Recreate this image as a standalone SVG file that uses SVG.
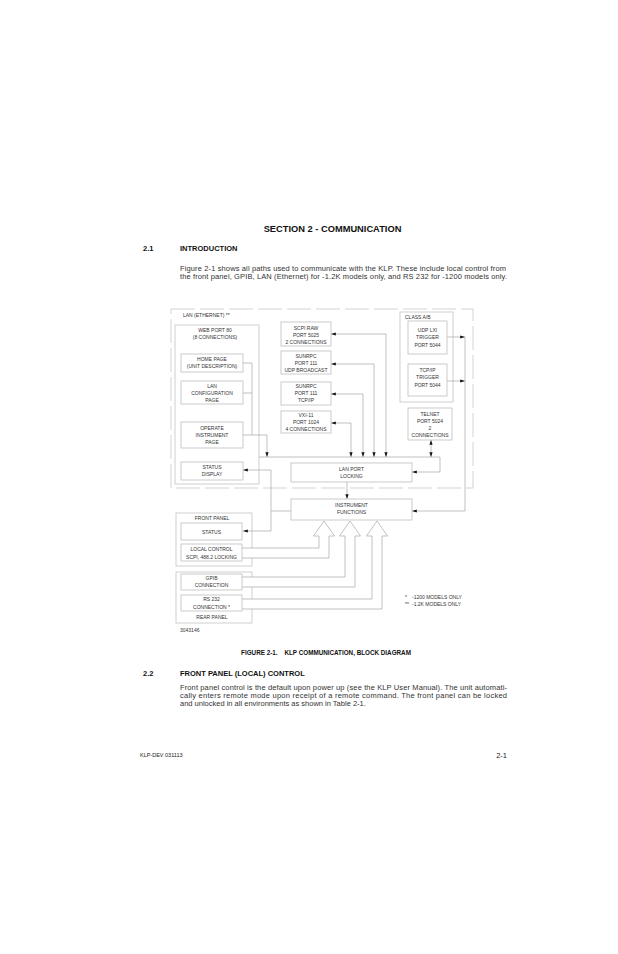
<svg xmlns="http://www.w3.org/2000/svg" width="618" height="954" viewBox="0 0 618 954">
<defs>
<style>
.f{font-family:"Liberation Sans",Arial,sans-serif}
.t{font-family:"Liberation Sans",Arial,sans-serif;font-size:5px;fill:#333;text-anchor:middle}
.tl{font-family:"Liberation Sans",Arial,sans-serif;font-size:5px;fill:#333}
.h{font-family:"Liberation Sans",Arial,sans-serif;font-weight:bold;fill:#111}
.p{font-family:"Liberation Sans",Arial,sans-serif;font-size:7.5px;fill:#333}
.box{fill:#fff;stroke:#bdbdbd;stroke-width:0.8}
.grp{fill:none;stroke:#c4c4c4;stroke-width:0.8}
.ln{fill:none;stroke:#a8a8a8;stroke-width:0.7}
.dash{fill:none;stroke:#c8c8c8;stroke-width:0.8;stroke-dasharray:24 5}
.hol{fill:#fff;stroke:#a8a8a8;stroke-width:0.7}
</style>
<marker id="ah" viewBox="0 0 6 4" refX="6" refY="2" markerWidth="5" markerHeight="3.2" orient="auto-start-reverse" markerUnits="userSpaceOnUse">
<path d="M0,0 L6,2 L0,4 z" fill="#111"/>
</marker>
</defs>
<rect width="618" height="954" fill="#fff"/>

<!-- page text -->
<text class="h" x="332.5" y="231.5" font-size="9.3" text-anchor="middle">SECTION 2 - COMMUNICATION</text>
<text class="h" x="143" y="250.5" font-size="7.5">2.1</text>
<text class="h" x="180" y="250.5" font-size="7.5">INTRODUCTION</text>
<text class="p" x="180" y="270.5" textLength="326" lengthAdjust="spacing">Figure 2-1 shows all paths used to communicate with the KLP. These include local control from</text>
<text class="p" x="180" y="278.5" textLength="327" lengthAdjust="spacing">the front panel, GPIB, LAN (Ethernet) for -1.2K models only, and RS 232 for -1200 models only.</text>

<!-- group frames -->
<g id="lan-ethernet">
<rect class="dash" x="171" y="309" width="302" height="179"/>
<text class="tl" x="183" y="317">LAN (ETHERNET) **</text>
</g>
<g id="web-port-80">
<rect class="grp" x="175" y="325" width="84" height="159"/>
<text class="t" x="215" y="332">WEB PORT 80</text>
<text class="t" x="215" y="339">(8 CONNECTIONS)</text>
</g>
<g id="class-ab">
<rect class="grp" x="400" y="312" width="53" height="90"/>
<text class="tl" x="405" y="319">CLASS A/B</text>
</g>
<g id="front-panel">
<rect class="grp" x="176" y="513" width="76" height="53"/>
<text class="t" x="212" y="520">FRONT PANEL</text>
</g>
<g id="rear-panel">
<rect class="grp" x="176" y="572" width="76" height="51"/>
<text class="t" x="212" y="619">REAR PANEL</text>
</g>

<!-- connectors -->
<g id="connectors">
<path class="ln" d="M243,363 H252 V435"/>
<path class="ln" d="M243,393 H252"/>
<path class="ln" d="M243,435 H267 V457" marker-end="url(#ah)"/>
<path class="ln" d="M259,457 H440 V472 H412" marker-end="url(#ah)"/>
<path class="ln" d="M386,457 V334 H331" marker-start="url(#ah)" marker-end="url(#ah)"/>
<path class="ln" d="M374,457 V364 H331" marker-start="url(#ah)" marker-end="url(#ah)"/>
<path class="ln" d="M363,457 V394 H331" marker-start="url(#ah)" marker-end="url(#ah)"/>
<path class="ln" d="M351,457 V423 H331" marker-start="url(#ah)" marker-end="url(#ah)"/>
<path class="ln" d="M431,457 V440" marker-start="url(#ah)" marker-end="url(#ah)"/>
<path class="ln" d="M347,482 V499" marker-end="url(#ah)"/>
<path class="ln" d="M447,337 H465" marker-end="url(#ah)"/>
<path class="ln" d="M447,381 H465" marker-end="url(#ah)"/>
<path class="ln" d="M465,337 V511 H412" marker-end="url(#ah)"/>
<path class="ln" d="M291,511 H271 V470 H243" marker-end="url(#ah)"/>
<path class="ln" d="M271,511 V531 H243" marker-end="url(#ah)"/>
<path class="hol" d="M242,548 H319 V536 H313.5 L324,521 L334.5,536 H329 V558 H242"/>
<path class="hol" d="M242,577 H345 V536 H339.5 L350,521 L360.5,536 H355 V587 H242"/>
<path class="hol" d="M242,599 H372 V536 H366.5 L377,521 L387.5,536 H382 V609 H242"/>
</g>

<!-- nodes -->
<g id="home-page">
<rect class="box" x="181" y="354" width="62" height="18"/>
<text class="t" x="212" y="361">HOME PAGE</text>
<text class="t" x="212" y="368">(UNIT DESCRIPTION)</text>
</g>
<g id="lan-config-page">
<rect class="box" x="181" y="381" width="62" height="23"/>
<text class="t" x="212" y="388">LAN</text>
<text class="t" x="212" y="395">CONFIGURATION</text>
<text class="t" x="212" y="402">PAGE</text>
</g>
<g id="operate-page">
<rect class="box" x="181" y="422" width="62" height="26"/>
<text class="t" x="212" y="430">OPERATE</text>
<text class="t" x="212" y="437">INSTRUMENT</text>
<text class="t" x="212" y="444">PAGE</text>
</g>
<g id="status-display">
<rect class="box" x="181" y="462" width="62" height="18"/>
<text class="t" x="212" y="468.5">STATUS</text>
<text class="t" x="212" y="476">DISPLAY</text>
</g>
<g id="scpi-raw">
<rect class="box" x="281" y="322" width="50" height="24"/>
<text class="t" x="306" y="330">SCPI RAW</text>
<text class="t" x="306" y="337">PORT 5025</text>
<text class="t" x="306" y="344">2 CONNECTIONS</text>
</g>
<g id="sunrpc-udp">
<rect class="box" x="281" y="351" width="50" height="23"/>
<text class="t" x="306" y="358">SUNRPC</text>
<text class="t" x="306" y="365">PORT 111</text>
<text class="t" x="306" y="372">UDP BROADCAST</text>
</g>
<g id="sunrpc-tcp">
<rect class="box" x="281" y="382" width="50" height="23"/>
<text class="t" x="306" y="388">SUNRPC</text>
<text class="t" x="306" y="395">PORT 111</text>
<text class="t" x="306" y="402">TCP/IP</text>
</g>
<g id="vxi-11">
<rect class="box" x="281" y="411" width="50" height="22"/>
<text class="t" x="306" y="417">VXI-11</text>
<text class="t" x="306" y="424">PORT 1024</text>
<text class="t" x="306" y="431">4 CONNECTIONS</text>
</g>
<g id="udp-lxi">
<rect class="box" x="408" y="321" width="39" height="33"/>
<text class="t" x="427.5" y="332">UDP LXI</text>
<text class="t" x="427.5" y="339">TRIGGER</text>
<text class="t" x="427.5" y="347">PORT 5044</text>
</g>
<g id="tcpip-trigger">
<rect class="box" x="408" y="364" width="39" height="32"/>
<text class="t" x="427.5" y="372">TCP/IP</text>
<text class="t" x="427.5" y="379">TRIGGER</text>
<text class="t" x="427.5" y="387">PORT 5044</text>
</g>
<g id="telnet">
<rect class="box" x="408" y="408" width="44" height="32"/>
<text class="t" x="430" y="416">TELNET</text>
<text class="t" x="430" y="423">PORT 5024</text>
<text class="t" x="430" y="430">2</text>
<text class="t" x="430" y="437">CONNECTIONS</text>
</g>
<g id="lan-port-locking">
<rect class="box" x="291" y="463" width="121" height="19"/>
<text class="t" x="351.5" y="471">LAN PORT</text>
<text class="t" x="351.5" y="478">LOCKING</text>
</g>
<g id="instrument-functions">
<rect class="box" x="291" y="499" width="121" height="21"/>
<text class="t" x="351.5" y="507">INSTRUMENT</text>
<text class="t" x="351.5" y="514">FUNCTIONS</text>
</g>
<g id="fp-status">
<rect class="box" x="181" y="523" width="61" height="17"/>
<text class="t" x="211.5" y="534">STATUS</text>
</g>
<g id="local-control">
<rect class="box" x="181" y="544" width="61" height="17"/>
<text class="t" x="211.5" y="551">LOCAL CONTROL</text>
<text class="t" x="211.5" y="558.5">SCPI, 488.2 LOCKING</text>
</g>
<g id="gpib">
<rect class="box" x="181" y="574" width="61" height="16"/>
<text class="t" x="211.5" y="580">GPIB</text>
<text class="t" x="211.5" y="587">CONNECTION</text>
</g>
<g id="rs232">
<rect class="box" x="181" y="595" width="61" height="16"/>
<text class="t" x="211.5" y="601">RS 232</text>
<text class="t" x="211.5" y="608.5">CONNECTION *</text>
</g>

<text class="tl" x="405" y="599">*</text>
<text class="tl" x="412" y="599">-1200 MODELS ONLY</text>
<text class="tl" x="405" y="606">**</text>
<text class="tl" x="412" y="606">-1.2K MODELS ONLY</text>
<text class="tl" x="180" y="632">3043146</text>

<!-- caption and following text -->
<text class="h" x="326" y="655" font-size="6.3" text-anchor="middle" xml:space="preserve">FIGURE 2-1.    KLP COMMUNICATION, BLOCK DIAGRAM</text>
<text class="h" x="143" y="675.5" font-size="7.5">2.2</text>
<text class="h" x="180" y="675.5" font-size="7.5">FRONT PANEL (LOCAL) CONTROL</text>
<text class="p" x="180" y="689.5" textLength="327" lengthAdjust="spacing">Front panel control is the default upon power up (see the KLP User Manual). The unit automati-</text>
<text class="p" x="180" y="697.5" textLength="327" lengthAdjust="spacing">cally enters remote mode upon receipt of a remote command. The front panel can be locked</text>
<text class="p" x="180" y="705.5">and unlocked in all environments as shown in Table 2-1.</text>

<text class="f" x="140" y="757" font-size="5.5" fill="#222">KLP-DEV 031113</text>
<text class="f" x="507" y="758" font-size="7.5" fill="#222" text-anchor="end">2-1</text>
</svg>
